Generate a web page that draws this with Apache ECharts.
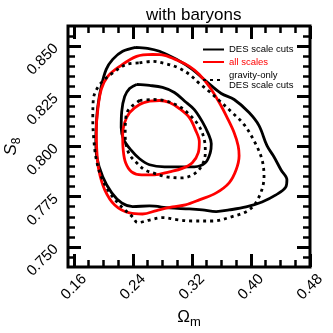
<!DOCTYPE html>
<html><head><meta charset="utf-8">
<script src="https://cdn.jsdelivr.net/npm/echarts@6/dist/echarts.min.js"></script>
<style>html,body{margin:0;padding:0;background:#fff}#c{width:333px;height:333px}</style>
</head><body><div id="c"></div>
<script>
// Tick values
const xMajorTicks = [0.16, 0.24, 0.32, 0.40, 0.48];
const xMinorTicks = [0.16, 0.18, 0.20, 0.22, 0.24, 0.26, 0.28, 0.30, 0.32, 0.34, 0.36, 0.38, 0.40, 0.42, 0.44, 0.46];
const yMajorTicks = [0.750, 0.775, 0.800, 0.825, 0.850];
const yMinorTicks = [0.745, 0.750, 0.755, 0.760, 0.765, 0.770, 0.775, 0.780, 0.785, 0.790, 0.795, 0.800, 0.805, 0.810, 0.815, 0.820, 0.825, 0.830, 0.835, 0.840, 0.845, 0.850, 0.855];

// Contours [Omega_m, S8]
const desOuter = [[0.2436,0.8494],[0.2598,0.8489],[0.2760,0.8474],[0.2989,0.8434],[0.3205,0.8384],[0.3394,0.8324],[0.3597,0.8264],[0.3772,0.8234],[0.3974,0.8169],[0.4109,0.8104],[0.4217,0.8004],[0.4311,0.7949],[0.4406,0.7884],[0.4487,0.7834],[0.4473,0.7799],[0.4338,0.7759],[0.4150,0.7724],[0.3934,0.7699],[0.3704,0.7684],[0.3529,0.7676],[0.3340,0.7684],[0.3165,0.7689],[0.2895,0.7694],[0.2625,0.7704],[0.2396,0.7701],[0.2248,0.7719],[0.2113,0.7769],[0.1991,0.7849],[0.1910,0.7949],[0.1897,0.8034],[0.1904,0.8109],[0.1924,0.8199],[0.1971,0.8299],[0.2038,0.8384],[0.2126,0.8434],[0.2261,0.8474],[0.2436,0.8494]];
const desInner = [[0.2450,0.8309],[0.2625,0.8304],[0.2801,0.8294],[0.2962,0.8269],[0.3124,0.8219],[0.3232,0.8184],[0.3340,0.8124],[0.3421,0.8064],[0.3462,0.8014],[0.3448,0.7969],[0.3381,0.7919],[0.3232,0.7899],[0.3030,0.7899],[0.2828,0.7899],[0.2625,0.7909],[0.2490,0.7939],[0.2369,0.7984],[0.2275,0.8034],[0.2241,0.8094],[0.2248,0.8174],[0.2288,0.8249],[0.2355,0.8289],[0.2450,0.8309]];
const allOuter = [[0.2666,0.8459],[0.2828,0.8454],[0.3003,0.8429],[0.3165,0.8399],[0.3300,0.8359],[0.3435,0.8299],[0.3570,0.8219],[0.3677,0.8144],[0.3772,0.8069],[0.3826,0.8004],[0.3839,0.7954],[0.3799,0.7884],[0.3704,0.7819],[0.3529,0.7769],[0.3300,0.7734],[0.3111,0.7709],[0.2936,0.7699],[0.2720,0.7681],[0.2531,0.7664],[0.2355,0.7669],[0.2153,0.7709],[0.2018,0.7784],[0.1937,0.7884],[0.1910,0.7984],[0.1904,0.8084],[0.1924,0.8184],[0.1971,0.8284],[0.2059,0.8349],[0.2221,0.8399],[0.2450,0.8449],[0.2666,0.8459]];
const allInner = [[0.2625,0.8226],[0.2760,0.8229],[0.2895,0.8219],[0.3030,0.8189],[0.3165,0.8144],[0.3246,0.8084],[0.3300,0.8024],[0.3286,0.7969],[0.3205,0.7919],[0.3070,0.7891],[0.2895,0.7874],[0.2693,0.7859],[0.2517,0.7859],[0.2382,0.7874],[0.2301,0.7919],[0.2268,0.7984],[0.2261,0.8059],[0.2288,0.8119],[0.2355,0.8169],[0.2490,0.8209],[0.2625,0.8226]];
const gravOuter = [[0.2490,0.8416],[0.2666,0.8424],[0.2828,0.8414],[0.3003,0.8394],[0.3165,0.8359],[0.3300,0.8314],[0.3435,0.8274],[0.3570,0.8229],[0.3745,0.8169],[0.3907,0.8109],[0.4055,0.8019],[0.4150,0.7934],[0.4177,0.7849],[0.4109,0.7749],[0.3974,0.7684],[0.3745,0.7651],[0.3475,0.7629],[0.3205,0.7629],[0.2989,0.7636],[0.2801,0.7646],[0.2625,0.7634],[0.2463,0.7621],[0.2396,0.7649],[0.2248,0.7699],[0.2086,0.7769],[0.1971,0.7849],[0.1904,0.7934],[0.1870,0.8034],[0.1856,0.8134],[0.1863,0.8234],[0.1951,0.8309],[0.2126,0.8366],[0.2315,0.8409],[0.2490,0.8416]];
const gravInner = [[0.2490,0.8229],[0.2666,0.8234],[0.2855,0.8226],[0.3030,0.8199],[0.3165,0.8159],[0.3300,0.8099],[0.3367,0.8034],[0.3381,0.7969],[0.3340,0.7909],[0.3232,0.7864],[0.3070,0.7844],[0.2855,0.7849],[0.2693,0.7866],[0.2558,0.7884],[0.2450,0.7919],[0.2355,0.7959],[0.2308,0.8009],[0.2295,0.8059],[0.2301,0.8134],[0.2342,0.8184],[0.2490,0.8229]];

const FONT = 'Liberation Sans';
const X_MIN = 0.152, X_MAX = 0.48, Y_MIN = 0.74, Y_MAX = 0.86;

function xAx(pos, ticks, len, w, labels) {
  return {
    type: 'value', min: X_MIN, max: X_MAX, position: pos,
    axisLine: {show: false}, splitLine: {show: false},
    axisTick: {show: true, inside: true, length: len, customValues: ticks, lineStyle: {color: '#000', width: w}},
    axisLabel: labels ? {show: true, customValues: xMajorTicks, formatter: v => v.toFixed(2), rotate: 45,
      align: 'center', verticalAlign: 'middle', margin: 20, fontSize: 15, color: '#000', fontFamily: FONT} : {show: false}
  };
}
function yAx(pos, ticks, len, w, labels) {
  return {
    type: 'value', min: Y_MIN, max: Y_MAX, position: pos,
    axisLine: {show: false}, splitLine: {show: false},
    axisTick: {show: true, inside: true, length: len, customValues: ticks, lineStyle: {color: '#000', width: w}},
    axisLabel: labels ? {show: true, customValues: yMajorTicks, formatter: v => v.toFixed(3), rotate: 45,
      margin: 12, fontSize: 15, color: '#000', fontFamily: FONT} : {show: false}
  };
}
const xs = [xAx('bottom', xMajorTicks, 13, 3, true), xAx('bottom', xMinorTicks, 7, 2.5, false), xAx('top', xMajorTicks, 13, 3, false), xAx('top', xMinorTicks, 7, 2.5, false)];
xs[0].name = '{o|Ω}{s|m}';
xs[0].nameLocation = 'middle';
xs[0].nameGap = 42;
xs[0].nameMoveOverlap = false;
xs[0].nameTextStyle = {rich: {o: {fontSize: 17, fontFamily: FONT, color: '#000', lineHeight: 17, verticalAlign: 'top'}, s: {fontSize: 13, fontFamily: FONT, color: '#000', lineHeight: 20, verticalAlign: 'bottom'}}};
const ys = [yAx('left', yMajorTicks, 13, 3, true), yAx('left', yMinorTicks, 7, 2.5, false), yAx('right', yMajorTicks, 13, 3, false), yAx('right', yMinorTicks, 7, 2.5, false)];
ys[0].name = '{o|S}{s|8}';
ys[0].nameLocation = 'middle';
ys[0].nameRotate = 90;
ys[0].nameGap = 45;
ys[0].nameMoveOverlap = false;
ys[0].nameTextStyle = {rich: {o: {fontSize: 17, fontStyle: 'italic', fontFamily: FONT, color: '#000', lineHeight: 17, verticalAlign: 'top'}, s: {fontSize: 12, fontFamily: FONT, color: '#000', lineHeight: 20, verticalAlign: 'bottom'}}};

function contour(name, data, color, type) {
  return {type: 'line', name: name, data: data, symbol: 'none', smooth: 0.35,
    xAxisIndex: 0, yAxisIndex: 0, color: color, itemStyle: {color: color},
    lineStyle: {color: color, width: 2.8, type: type, cap: 'butt'}, silent: true};
}
const legText = {fontFamily: FONT, fontSize: 9.5, color: '#000', lineHeight: 10};
const legIconStyle = {color: 'transparent', borderColor: 'transparent', borderWidth: 0, opacity: 0};
const chart = echarts.init(document.getElementById('c'), null, {renderer: 'canvas'});
chart.setOption({
  animation: false,
  backgroundColor: '#fff',
  title: {text: 'with baryons', left: 141, top: 2, textStyle: {fontFamily: FONT, fontSize: 17, fontWeight: 'normal', color: '#000'}},
  grid: {left: 68, right: 23, top: 26, bottom: 66, show: true, borderColor: '#000', borderWidth: 3, containLabel: false, outerBoundsMode: 'none'},
  xAxis: xs,
  yAxis: ys,
  legend: [
    {data: ['DES scale cuts'], left: 202, top: 44.5, padding: 0, itemWidth: 21, itemHeight: 10, textStyle: legText, selectedMode: false, itemStyle: legIconStyle},
    {data: ['all scales'], left: 202, top: 57, padding: 0, itemWidth: 21, itemHeight: 10, textStyle: Object.assign({}, legText, {color: '#ff0000'}), selectedMode: false, itemStyle: legIconStyle},
    {data: ['gravity-only'], left: 202, top: 70, padding: 0, itemWidth: 21, itemHeight: 10, textStyle: legText, selectedMode: false, itemStyle: legIconStyle,
      formatter: () => 'gravity-only\nDES scale cuts'}
  ],
  series: [
    contour('DES scale cuts', desOuter, '#000', 'solid'),
    contour('DES scale cuts', desInner, '#000', 'solid'),
    contour('all scales', allOuter, '#ff0000', 'solid'),
    contour('all scales', allInner, '#ff0000', 'solid'),
    contour('gravity-only', gravOuter, '#000', [3, 4]),
    contour('gravity-only', gravInner, '#000', [3, 4])
  ]
});
</script></body></html>
